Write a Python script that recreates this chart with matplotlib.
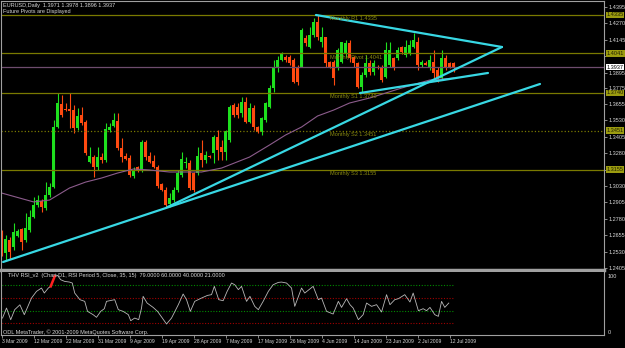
import matplotlib
matplotlib.use('Agg')
import matplotlib.pyplot as plt
import matplotlib.transforms as mtransforms

plt.rcParams['font.family'] = ['Liberation Sans Narrow', 'Liberation Sans', 'DejaVu Sans']

# daily candles EURUSD, 3 Mar 2009 .. 13 Jul 2009 (one bar per slot)
opens = [1.2672, 1.2519, 1.2618, 1.2565, 1.2650, 1.2702, 1.2618, 1.2695, 1.2794, 1.2885,
         1.2916, 1.2862, 1.2961, 1.3022, 1.3480, 1.3655, 1.3617, 1.3617, 1.3609, 1.3472,
         1.3571, 1.3518, 1.3213, 1.3251, 1.3175, 1.3251, 1.3228, 1.3457, 1.3487, 1.3526,
         1.3320, 1.3259, 1.3243, 1.3106, 1.3175, 1.3152, 1.3365, 1.3259, 1.3221, 1.3175,
         1.3045, 1.2999, 1.2893, 1.2923, 1.2999, 1.3114, 1.3205, 1.3205, 1.3129, 1.3129,
         1.3282, 1.3228, 1.3259, 1.3282, 1.3404, 1.3327, 1.3289, 1.3381, 1.3648, 1.3632,
         1.3587, 1.3670, 1.3518, 1.3625, 1.3480, 1.3442, 1.3533, 1.3632, 1.3777, 1.3930,
         1.3990, 1.4013, 1.4013, 1.3991, 1.3937, 1.3937, 1.4160, 1.4090, 1.4181, 1.4280,
         1.4128, 1.4166, 1.3975, 1.3975, 1.3930, 1.3975, 1.4044, 1.4120, 1.4013, 1.3968,
         1.3785, 1.3876, 1.3968, 1.3899, 1.3937, 1.3937, 1.3861, 1.3952, 1.4006, 1.4006,
         1.4090, 1.4029, 1.4044, 1.4090, 1.4128, 1.3952, 1.3970, 1.3937, 1.3975, 1.3914,
         1.3853, 1.4006, 1.3968, 1.3971]
highs = [1.2695, 1.2656, 1.2640, 1.2748, 1.2700, 1.2710, 1.2824, 1.2847, 1.2946, 1.2961,
         1.2935, 1.3060, 1.3053, 1.3533, 1.3739, 1.3724, 1.3663, 1.3739, 1.3648, 1.3625,
         1.3632, 1.3533, 1.3327, 1.3266, 1.3327, 1.3282, 1.3510, 1.3510, 1.3587, 1.3587,
         1.3396, 1.3282, 1.3266, 1.3175, 1.3180, 1.3381, 1.3381, 1.3289, 1.3266, 1.3190,
         1.3050, 1.3022, 1.2977, 1.3022, 1.3152, 1.3289, 1.3251, 1.3228, 1.3137, 1.3327,
         1.3381, 1.3300, 1.3270, 1.3419, 1.3457, 1.3381, 1.3457, 1.3648, 1.3663, 1.3660,
         1.3709, 1.3709, 1.3663, 1.3648, 1.3490, 1.3556, 1.3670, 1.3800, 1.3991, 1.4020,
         1.4050, 1.4029, 1.4030, 1.4006, 1.3950, 1.4234, 1.4180, 1.4242, 1.4311, 1.4334,
         1.4242, 1.4170, 1.3985, 1.3991, 1.4082, 1.4128, 1.4143, 1.4143, 1.4020, 1.3975,
         1.3900, 1.4029, 1.3990, 1.3990, 1.3952, 1.3952, 1.4128, 1.4128, 1.4013, 1.4090,
         1.4100, 1.4143, 1.4143, 1.4196, 1.4166, 1.3990, 1.3980, 1.4029, 1.4067, 1.3937,
         1.4067, 1.4029, 1.3975, 1.3978]
lows = [1.2500, 1.2455, 1.2470, 1.2542, 1.2640, 1.2542, 1.2600, 1.2679, 1.2786, 1.2870,
        1.2832, 1.2847, 1.2946, 1.3015, 1.3472, 1.3556, 1.3605, 1.3472, 1.3434, 1.3457,
        1.3495, 1.3266, 1.3205, 1.3099, 1.3152, 1.3205, 1.3213, 1.3442, 1.3480, 1.3304,
        1.3213, 1.3228, 1.3099, 1.3091, 1.3140, 1.3137, 1.3228, 1.3205, 1.3167, 1.3015,
        1.2990, 1.2870, 1.2870, 1.2908, 1.2984, 1.3099, 1.3167, 1.2999, 1.2984, 1.3114,
        1.3175, 1.3205, 1.3240, 1.3205, 1.3228, 1.3228, 1.3228, 1.3365, 1.3556, 1.3550,
        1.3556, 1.3510, 1.3510, 1.3457, 1.3434, 1.3419, 1.3518, 1.3625, 1.3747, 1.3900,
        1.3985, 1.3975, 1.3950, 1.3815, 1.3800, 1.3937, 1.4100, 1.4082, 1.4166, 1.4143,
        1.4090, 1.3937, 1.3930, 1.3800, 1.3914, 1.3968, 1.4013, 1.3975, 1.3937, 1.3777,
        1.3739, 1.3861, 1.3880, 1.3880, 1.3920, 1.3823, 1.3853, 1.3937, 1.3914, 1.3991,
        1.4040, 1.4013, 1.4029, 1.4082, 1.3914, 1.3940, 1.3950, 1.3914, 1.3838, 1.3823,
        1.3838, 1.3914, 1.3930, 1.3896]
closes = [1.2519, 1.2626, 1.2527, 1.2679, 1.2690, 1.2603, 1.2710, 1.2794, 1.2885, 1.2923,
          1.2870, 1.2961, 1.3022, 1.3480, 1.3663, 1.3571, 1.3612, 1.3602, 1.3472, 1.3564,
          1.3510, 1.3282, 1.3259, 1.3175, 1.3251, 1.3228, 1.3465, 1.3480, 1.3533, 1.3320,
          1.3251, 1.3236, 1.3114, 1.3152, 1.3144, 1.3365, 1.3251, 1.3213, 1.3175, 1.3030,
          1.2999, 1.2885, 1.2938, 1.2999, 1.3129, 1.3236, 1.3213, 1.3015, 1.2999, 1.3259,
          1.3228, 1.3266, 1.3251, 1.3404, 1.3304, 1.3289, 1.3449, 1.3632, 1.3571, 1.3571,
          1.3670, 1.3518, 1.3625, 1.3480, 1.3442, 1.3548, 1.3663, 1.3777, 1.3930, 1.3991,
          1.4040, 1.3991, 1.3968, 1.3823, 1.3823, 1.4219, 1.4120, 1.4181, 1.4280, 1.4166,
          1.4166, 1.3968, 1.3937, 1.3853, 1.4067, 1.4128, 1.4120, 1.4006, 1.3968, 1.3785,
          1.3876, 1.3968, 1.3899, 1.3968, 1.3930, 1.3838, 1.4067, 1.4067, 1.3937, 1.4067,
          1.4052, 1.4090, 1.4105, 1.4143, 1.3952, 1.3975, 1.3955, 1.3991, 1.3891, 1.3853,
          1.4006, 1.3930, 1.3937, 1.3937]

# moving average (bar, price)
ma_bars = [0, 8, 12, 17, 21, 25, 29, 33, 37, 42, 50, 55, 62, 67, 71, 75, 79, 83, 87, 92, 100, 107, 113]
ma_vals = [1.2977, 1.2909, 1.2923, 1.3015, 1.3060, 1.3091, 1.3129, 1.3160, 1.3152, 1.3137,
           1.3137, 1.3167, 1.3251, 1.3343, 1.3419, 1.3480, 1.3564, 1.3609, 1.3663, 1.3701,
           1.3777, 1.3838, 1.3853]

# monthly pivots
piv_names = ['R1', 'Pivot', 'S1', 'S2', 'S3']
piv_vals = [1.4335, 1.4041, 1.3740, 1.3451, 1.3155]
piv_styles = ['-', '-', '-', ':', '-']
last_price = 1.3937

# drawn trend lines: (bar0, price0, bar1, price1)
trend_lines = [(0.4, 1.2451, 134.6, 1.3808),
               (41.5, 1.2870, 125.1, 1.4090),
               (78.6, 1.4334, 125.1, 1.4090),
               (89.6, 1.3739, 121.6, 1.3892)]

# price axis labels ('' where a pivot box sits on top of it)
price_ticks = [1.4395, 1.4270, 1.4145, 1.4020, 1.3895, 1.3775, 1.3655, 1.3530, 1.3405,
               1.3280, 1.3155, 1.3030, 1.2905, 1.2780, 1.2655, 1.2530, 1.2405]
hidden_ticks = [1.4020, 1.3155]

date_pos = [0, 8, 16, 24, 32, 40, 48, 56, 64, 72, 80, 88, 96, 104, 112]
date_labels = ['3 Mar 2009', '12 Mar 2009', '22 Mar 2009', '31 Mar 2009', '9 Apr 2009',
               '19 Apr 2009', '28 Apr 2009', '7 May 2009', '17 May 2009', '26 May 2009',
               '4 Jun 2009', '14 Jun 2009', '23 Jun 2009', '2 Jul 2009', '12 Jul 2009']

# RSI trace (bar, value)
rsi_bars = [0.25, 1.25, 2.3, 3.3, 4.6, 5.7, 7.5, 8.75, 10, 10.7, 11.7, 12.3, 13.3, 14, 14.8,
            15.8, 17, 17.7, 18.3, 19.6, 20.8, 21.5, 22.9, 23.75, 24.8, 25.7, 26.25, 28.3,
            29.2, 30.4, 31.7, 32.3, 33.3, 34.3, 35, 35.4, 36.4, 37.9, 39, 40.2, 41.25, 42.5,
            44.2, 45.4, 46.25, 47.2, 48.3, 50, 51.5, 52.5, 53.2, 54.3, 55.4, 56.4, 57.5,
            58.3, 59.2, 60, 61.25, 62.1, 63.3, 64.2, 65.4, 66.7, 67.9, 69.2, 70, 71.25,
            72.5, 73.3, 75, 75.8, 77.9, 79.2, 80, 81.25, 82.9, 84.2, 85, 86.25, 87.1, 87.9,
            89.2, 90.4, 91.25, 92.5, 93.75, 95, 96.25, 97.1, 98.3, 99.2, 100.8, 102.1,
            102.9, 104.2, 105.4, 106.25, 107.1, 108.3, 109.2, 110, 110.8, 111.8]
rsi_vals = [28.6, 44, 26, 41.5, 49, 33.8, 59.4, 69.7, 74.8, 67.1, 74.8, 77.4, 92.8, 94.3, 87.6,
            85, 84, 82.5, 67.1, 56.9, 54.3, 38.9, 33.8, 29.7, 38.9, 43, 54.3, 56.9,
            41.5, 38.9, 33.8, 24.5, 28.6, 26.1, 44, 62, 51.7, 45, 38.9, 28.6, 19.4, 28.6,
            49.2, 65.6, 56.9, 38.9, 54.3, 59.4, 63.5, 64.6, 77.4, 56.9, 55.3, 69.7, 82.5,
            79.9, 72.3, 77.4, 54.3, 62, 46.6, 41.5, 54.3, 69.7, 79.9, 83.5, 84, 82.5,
            74.8, 46.6, 74.8, 67.1, 77.4, 56.9, 59.4, 38.9, 34.8, 54.3, 45, 58.4, 49.2, 44,
            26.1, 33.8, 51.7, 46.6, 49.2, 37.9, 64.6, 49.2, 56.9, 58.4, 64.6, 53.3,
            67.1, 39.9, 43, 39.9, 45, 33.8, 31.2, 54.3, 45, 51.7]
rsi_levels_green = [79, 40]
rsi_levels_red = [60, 21]

BULL = '#1EE01E'
BEAR = '#FF4A10'
GRID = '#A0A0A0'
OLIVE = '#7A7A00'
TXT = '#D8D8D8'
FS = 4.0

W, H = 625, 348
fig = plt.figure(figsize=(W / 100, H / 100), dpi=100, facecolor='black')


def fx(px):
    return px / W


def fy(py):
    return 1 - py / H


ax = fig.add_axes([fx(1), fy(270), fx(604) - fx(1), fy(1) - fy(270)], facecolor='black')
rax = fig.add_axes([fx(1), fy(335), fx(604) - fx(1), fy(272) - fy(335)], facecolor='black',
                   sharex=ax)

ax.set_xlim(-0.125, 150.6)
ax.set_ylim(1.23899, 1.44407)
rax.set_ylim(2.5, 99.5)

# candles
for i in range(len(opens)):
    o, h, l, c = opens[i], highs[i], lows[i], closes[i]
    col = BULL if c >= o else BEAR
    ax.vlines(i, l, h, color=col, lw=0.8)
    ax.bar(i, max(abs(c - o), 0.0008), bottom=min(o, c), width=0.72, color=col, linewidth=0)

# pivots
for name, val, st in zip(piv_names, piv_vals, piv_styles):
    ax.axhline(val, color=OLIVE, lw=0.9, ls=st)
    ax.text(82.2, val - 0.0009, 'Monthly %s %.4f' % (name, val), color='#8A8A10',
            fontsize=FS, va='top', ha='left')

ax.axhline(last_price, color='#6E4C6E', lw=0.9)
ax.plot(ma_bars, ma_vals, color='#8C5C8C', lw=0.8)

for b0, p0, b1, p1 in trend_lines:
    ax.plot([b0, b1], [p0, p1], color='#38D8E4', lw=1.6, solid_capstyle='round')

# axes cosmetics
for a in (ax, rax):
    for s in a.spines.values():
        s.set_color(GRID)
        s.set_linewidth(0.8)
ax.spines['bottom'].set_linewidth(2.5)
rax.spines['top'].set_visible(False)

ax.yaxis.tick_right()
ax.set_yticks(price_ticks)
ax.set_yticklabels(['' if t in hidden_ticks else '%.4f' % t for t in price_ticks])
ax.tick_params(axis='y', colors=GRID, labelcolor=TXT, labelsize=FS, length=2, width=0.6, pad=1)
ax.tick_params(axis='x', length=0, labelbottom=False)

tr = mtransforms.blended_transform_factory(ax.transAxes, ax.transData)
for val in piv_vals:
    ax.text(1.004, val, '%.4f' % val, transform=tr, fontsize=FS, color='#202000',
            va='center', ha='left',
            bbox=dict(boxstyle='square,pad=0.15', fc='#9C9C10', ec='none'))
ax.text(1.004, last_price, '%.4f' % last_price, transform=tr, fontsize=FS, color='black',
        va='center', ha='left', bbox=dict(boxstyle='square,pad=0.15', fc='white', ec='none'))

# RSI window
rax.hlines(rsi_levels_green, -0.5, 113, colors='#008A00', linestyles=(0, (1, 1.5)), lw=0.8)
rax.hlines(rsi_levels_red, -0.5, 113, colors='#A00000', linestyles=(0, (1, 1.5)), lw=0.8)
rax.plot(rsi_bars, rsi_vals, color='#B8B8B8', lw=0.6)
rax.plot(rsi_bars[11:13], rsi_vals[11:13], color='#FF2020', lw=1.8)

rax.set_yticks([])
rax.text(1.006, 0.97, '100', transform=rax.transAxes, fontsize=FS, color=TXT, va='top')
rax.text(1.006, 0.0, '0', transform=rax.transAxes, fontsize=FS, color=TXT, va='bottom')

rax.set_xticks(date_pos)
rax.set_xticklabels(date_labels)
rax.tick_params(axis='x', colors=GRID, labelcolor=TXT, labelsize=3.6, length=2, width=0.6, pad=1)
for lab in rax.get_xticklabels():
    lab.set_ha('left')

# header texts
fig.text(fx(3), fy(5), 'EURUSD,Daily  1.3971 1.3978 1.3896 1.3937', color=TXT, fontsize=FS,
         va='center', ha='left')
fig.text(fx(3), fy(12), 'Future Pivots are Displayed', color=TXT, fontsize=FS,
         va='center', ha='left')
fig.text(fx(8), fy(275), 'THV RSI_v2  (Chart D1, RSI Period 5, Close, 35, 15)  79.0000 60.0000 40.0000 21.0000',
         color=TXT, fontsize=FS, va='center', ha='left')
fig.text(fx(3), fy(332), 'ODL MetaTrader, \u00a9 2001-2009 MetaQuotes Software Corp.', color=TXT,
         fontsize=FS, va='center', ha='left')

fig.savefig('out.png', dpi=100, facecolor='black')
